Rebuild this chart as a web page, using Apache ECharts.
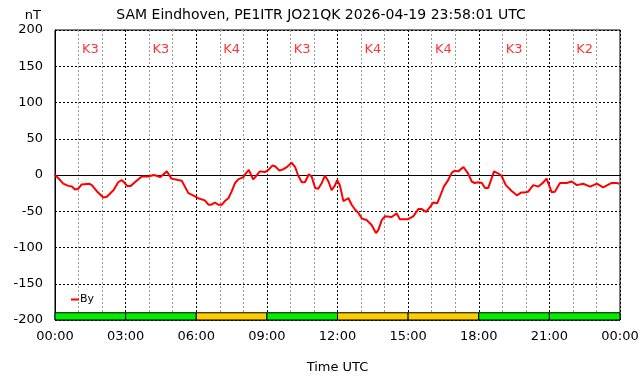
<!DOCTYPE html>
<html>
<head>
<meta charset="utf-8">
<script src="https://cdn.jsdelivr.net/npm/echarts@6/dist/echarts.min.js"></script>
<style>
  html, body { margin: 0; padding: 0; background: #fff; }
  #chart { width: 642px; height: 376px; }
</style>
</head>
<body>
<div id="chart"></div>
<script>
// minutes since 00:00 UTC
const byMinutes = [0, 13, 21, 34, 43, 51, 59, 68, 87, 94, 106, 123, 132, 149, 161, 170, 176, 184, 193, 208,
  221, 238, 252, 259, 268, 285, 297, 314, 323, 340, 352, 365, 370, 382, 391, 398, 408, 416, 425, 433,
  442, 450, 459, 467, 480, 486, 494, 505, 512, 522, 535, 544, 554, 561, 572, 582, 591, 603, 612, 620,
  629, 637, 647, 654, 663, 671, 680, 688, 697, 705, 714, 719, 726, 735, 739, 748, 756, 765, 773, 782,
  794, 807, 818, 824, 833, 841, 858, 871, 879, 900, 913, 926, 935, 946, 956, 964, 974, 981, 991, 1002,
  1011, 1019, 1028, 1041, 1053, 1062, 1070, 1079, 1088, 1096, 1104, 1119, 1130, 1138, 1149, 1164, 1177, 1189, 1198, 1206,
  1219, 1232, 1243, 1253, 1266, 1274, 1287, 1304, 1317, 1330, 1346, 1364, 1381, 1397, 1419, 1432, 1438]
// By values in nT
const byValues = [0, -7, -12, -15, -16, -20, -19, -13, -12, -14, -22, -31, -30, -21, -10, -7, -10, -15, -15, -8,
  -2, -2, 0, -1, -3, 5, -5, -7, -8, -25, -28, -32, -34, -35, -41, -41, -38, -41, -41, -36,
  -32, -23, -11, -6, -3, 2, 7, -6, -2, 5, 4, 7, 13, 12, 6, 8, 11, 17, 11, -1,
  -10, -10, 1, -2, -18, -19, -11, -1, -9, -21, -14, -7, -14, -36, -37, -32, -41, -48, -52, -60,
  -62, -69, -80, -76, -62, -57, -58, -53, -61, -61, -57, -47, -47, -51, -44, -38, -39, -30, -16, -7,
  3, 6, 5, 11, 2, -9, -11, -10, -11, -18, -18, 5, 2, -1, -14, -22, -28, -24, -24, -23,
  -14, -16, -11, -5, -24, -23, -11, -11, -9, -14, -12, -16, -12, -17, -11, -11, -12]

// K index per 3-hour block
const kIndex = [3, 3, 4, 3, 4, 4, 3, 2]
const blockStarts = [0, 180, 360, 540, 720, 900, 1080, 1260]

const chart = echarts.init(document.getElementById('chart'))

const fmtTime = (v) => {
  const m = v % 1440
  const h = Math.floor(m / 60)
  return String(h).padStart(2, '0') + ':' + String(m % 60).padStart(2, '0')
}

const kColor = (k) => (k >= 4 ? '#ffcc00' : '#00ee00')

const stripAreas = blockStarts.map((s, i) => [
  { xAxis: s, yAxis: -200, itemStyle: { color: kColor(kIndex[i]) } },
  { xAxis: s + 180, yAxis: -190 }
])

const kLabels = blockStarts.map((s, i) => ({
  value: [s + 90, 173],
  label: { formatter: 'K' + kIndex[i] }
}))

const dash = [2, 2]

const option = {
  animation: false,
  textStyle: { fontFamily: 'DejaVu Sans' },
  title: {
    text: 'SAM Eindhoven, PE1ITR JO21QK 2026-04-19 23:58:01 UTC',
    left: 'center',
    top: 3,
    textStyle: { fontSize: 14, fontWeight: 'normal', color: '#000', fontFamily: 'DejaVu Sans' }
  },
  legend: {
    data: ['By'],
    left: 66,
    top: 289,
    icon: 'rect',
    itemWidth: 8,
    itemHeight: 2,
    itemGap: 2,
    textStyle: { fontSize: 11, color: '#000', padding: [0, 0, 0, -4] }
  },
  grid: {
    left: 55,
    right: 22,
    top: 30,
    bottom: 56,
    outerBoundsMode: 'none',
    containLabel: false,
    show: true,
    borderColor: '#000',
    borderWidth: 1
  },
  xAxis: {
    type: 'value',
    min: 0,
    max: 1440,
    interval: 180,
    name: 'Time UTC',
    nameLocation: 'middle',
    nameGap: 41,
    nameTextStyle: { fontSize: 13, color: '#000' },
    axisLine: { lineStyle: { color: '#000' } },
    axisTick: { show: false },
    axisLabel: { formatter: fmtTime, fontSize: 13, color: '#000', margin: 10 },
    splitLine: { lineStyle: { color: '#000', type: dash } },
    minorTick: { show: true, splitNumber: 3, length: 0 },
    minorSplitLine: { show: true, lineStyle: { color: '#999', type: dash } }
  },
  yAxis: {
    type: 'value',
    min: -200,
    max: 200,
    interval: 50,
    name: 'nT',
    nameLocation: 'end',
    nameGap: 8,
    nameTextStyle: { fontSize: 13, color: '#000', align: 'right', padding: [0, 14, 0, 0] },
    axisLine: { lineStyle: { color: '#000' } },
    axisTick: { show: false },
    axisLabel: { fontSize: 13, color: '#000', margin: 12 },
    splitLine: { lineStyle: { color: '#000', type: dash } }
  },
  series: [
    {
      name: 'By',
      type: 'line',
      data: byMinutes.map((m, i) => [m, byValues[i]]),
      showSymbol: false,
      color: '#ff0000',
      lineStyle: { width: 2, color: '#ff0000' },
      z: 3,
      markArea: {
        silent: true,
        itemStyle: { borderColor: '#000', borderWidth: 1 },
        data: stripAreas
      }
    },
    {
      name: 'K',
      type: 'scatter',
      symbolSize: 0,
      data: kLabels,
      label: {
        show: true,
        position: 'inside',
        color: '#ff0000',
        fontSize: 13
      },
      silent: true
    }
  ]
}

chart.setOption(option)
</script>
</body>
</html>
